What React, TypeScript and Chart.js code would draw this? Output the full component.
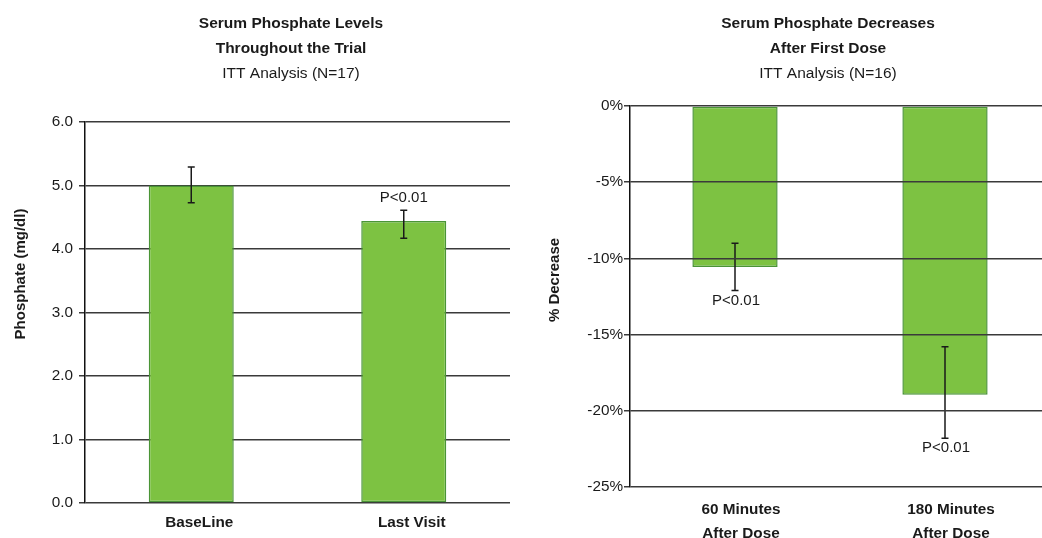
import React, { useEffect, useRef } from "react";
import { Chart, registerables } from "chart.js";

Chart.register(...registerables);

// ---- Left chart data ----
const leftTitle = ["Serum Phosphate Levels", "Throughout the Trial"];
const leftSubtitle = "ITT Analysis (N=17)";
const leftAxisTitle = "Phosphate (mg/dl)";
const leftCategories = ["BaseLine", "Last Visit"];
const leftValues = [5.0, 4.44];
const leftErrLow = [4.73, 4.17];
const leftErrHigh = [5.29, 4.61];
const leftPLabels = ["", "P<0.01"];

// ---- Right chart data ----
const rightTitle = ["Serum Phosphate Decreases", "After First Dose"];
const rightSubtitle = "ITT Analysis (N=16)";
const rightAxisTitle = "% Decrease";
const rightCategories = [
  ["60 Minutes", "After Dose"],
  ["180 Minutes", "After Dose"],
];
const rightValues = [-10.56, -18.94];
const rightErrLow = [-12.1, -21.8];
const rightErrHigh = [-9.0, -15.8];
const rightPLabels = ["P<0.01", "P<0.01"];

const FONT = '"Liberation Sans", Arial, Helvetica, sans-serif';

const BAR_FILL = "#7DC242";
const BAR_BORDER = "#4A9436";
const GRID = "#3a3a3a";
const TEXT = "#1a1a1a";

const annotPlugin = {
  id: "annot",
  afterDatasetsDraw(chart: any) {
    const o = chart.options.plugins.annot;
    if (!o) return;
    const ctx = chart.ctx;
    const meta = chart.getDatasetMeta(0);
    const y = chart.scales.y;
    ctx.save();
    ctx.strokeStyle = "#1a1a1a";
    ctx.lineWidth = 1.5;
    meta.data.forEach((bar: any, i: number) => {
      const x = bar.x;
      const yLo = y.getPixelForValue(o.low[i]);
      const yHi = y.getPixelForValue(o.high[i]);
      ctx.beginPath();
      ctx.moveTo(x, yLo);
      ctx.lineTo(x, yHi);
      ctx.moveTo(x - 3.5, yLo);
      ctx.lineTo(x + 3.5, yLo);
      ctx.moveTo(x - 3.5, yHi);
      ctx.lineTo(x + 3.5, yHi);
      ctx.stroke();
      const lbl = o.pLabels[i];
      if (lbl) {
        ctx.fillStyle = TEXT;
        ctx.font = `15px ${FONT}`;
        ctx.textAlign = "center";
        ctx.textBaseline = "middle";
        if (o.pPos === "above") ctx.fillText(lbl, x, yHi - 12);
        else ctx.fillText(lbl, x + 1, yLo + 10);
      }
    });
    ctx.restore();
  },
  afterDraw(chart: any) {
    const o = chart.options.plugins.annot;
    if (!o) return;
    const ctx = chart.ctx;
    ctx.save();
    ctx.fillStyle = TEXT;
    ctx.textAlign = "center";
    ctx.textBaseline = "middle";
    ctx.font = `bold 15.5px ${FONT}`;
    o.title.forEach((t: string, i: number) => ctx.fillText(t, o.titleX, 24 + i * 25));
    ctx.font = `15.5px ${FONT}`;
    ctx.fillText(o.subtitle, o.titleX, 74);
    ctx.translate(o.axisX, o.axisY);
    ctx.rotate(-Math.PI / 2);
    ctx.font = `bold 15px ${FONT}`;
    ctx.fillText(o.axisTitle, 0, 0);
    ctx.restore();
  },
};

function makeConfig(side: "left" | "right"): any {
  const isLeft = side === "left";
  return {
    type: "bar",
    data: {
      labels: isLeft ? leftCategories : rightCategories,
      datasets: [
        {
          data: isLeft ? leftValues : rightValues,
          backgroundColor: BAR_FILL,
          borderColor: BAR_BORDER,
          borderWidth: 1.5,
          borderSkipped: false,
          barPercentage: isLeft ? 0.4 : 0.406,
          categoryPercentage: 1,
        },
      ],
    },
    options: {
      responsive: false,
      animation: false,
      layout: {
        padding: isLeft
          ? { left: 0, right: 10, top: 122, bottom: 0 }
          : { left: 0, right: 10, top: 106, bottom: 0 },
      },
      plugins: {
        legend: { display: false },
        tooltip: { enabled: false },
        annot: {
          low: isLeft ? leftErrLow : rightErrLow,
          high: isLeft ? leftErrHigh : rightErrHigh,
          pLabels: isLeft ? leftPLabels : rightPLabels,
          pPos: isLeft ? "above" : "below",
          title: isLeft ? leftTitle : rightTitle,
          subtitle: isLeft ? leftSubtitle : rightSubtitle,
          titleX: isLeft ? 291 : 308,
          axisTitle: isLeft ? leftAxisTitle : rightAxisTitle,
          axisX: isLeft ? 21 : 35,
          axisY: isLeft ? 274 : 280,
        },
      },
      scales: {
        x: {
          grid: { display: false, drawTicks: false },
          border: { display: false },
          ticks: {
            color: TEXT,
            font: {
              family: FONT,
              size: 15.3,
              weight: "bold",
              lineHeight: isLeft ? 1.2 : 24 / 15.3,
            },
            padding: 11,
            labelOffset: isLeft ? 8 : 6,
            maxRotation: 0,
            autoSkip: false,
          },
          afterFit(scale: any) {
            scale.height = isLeft ? 35 : 51;
          },
        },
        y: {
          min: isLeft ? 0 : -25,
          max: isLeft ? 6 : 0,
          grid: {
            color: GRID,
            lineWidth: 1.5,
            tickLength: 6,
            z: isLeft ? 0 : 1,
          },
          border: { display: true, color: "#111", width: 1.5, z: isLeft ? 0 : 1 },
          ticks: {
            stepSize: isLeft ? 1 : 5,
            color: TEXT,
            padding: isLeft ? 6 : 1,
            font: { family: FONT, size: 15.3 },
            callback: (v: number) => (isLeft ? v.toFixed(1) : `${v}%`),
          },
          afterFit(scale: any) {
            scale.width = isLeft ? 85 : 110;
          },
        },
      },
    },
    plugins: [annotPlugin],
  };
}

function BarChart({ side, left, width }: { side: "left" | "right"; left: number; width: number }) {
  const ref = useRef<HTMLCanvasElement | null>(null);
  useEffect(() => {
    if (!ref.current) return;
    const chart = new Chart(ref.current, makeConfig(side));
    return () => chart.destroy();
  }, [side]);
  return (
    <canvas
      ref={ref}
      width={width}
      height={538}
      style={{ position: "absolute", left, top: 0, width, height: 538 }}
    />
  );
}

export default function App() {
  return (
    <div
      style={{
        position: "fixed",
        left: 0,
        top: 0,
        width: 1042,
        height: 538,
        overflow: "hidden",
        background: "#ffffff",
      }}
    >
      <BarChart side="left" left={0} width={520} />
      <BarChart side="right" left={520} width={540} />
    </div>
  );
}
